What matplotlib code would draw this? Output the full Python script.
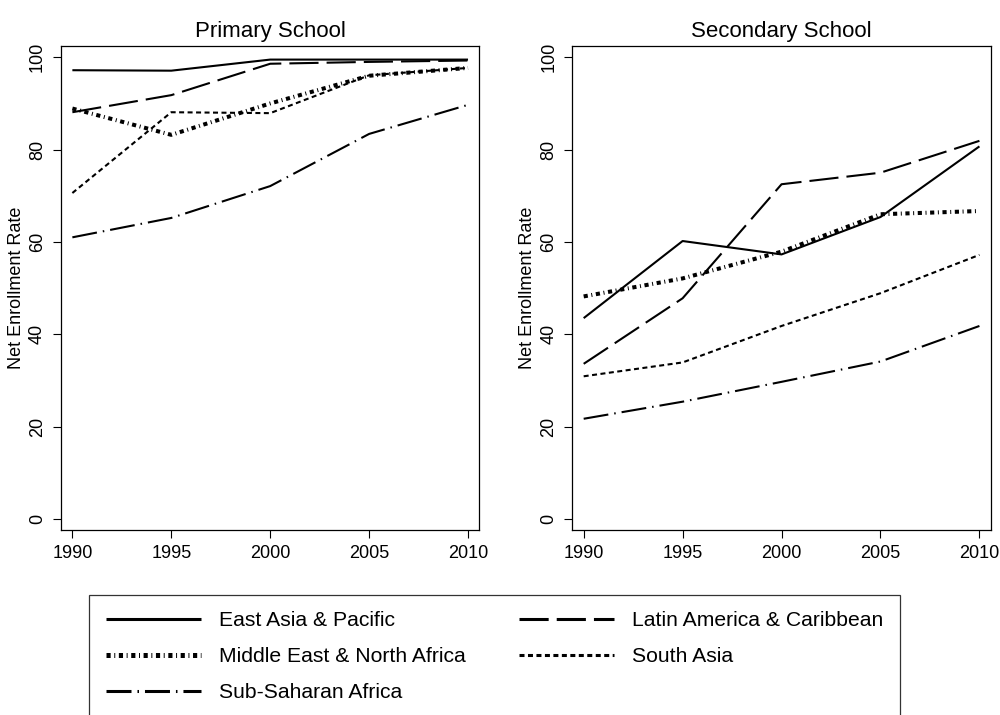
import matplotlib
matplotlib.use("Agg")
import matplotlib.pyplot as plt
from matplotlib.lines import Line2D

plt.rcParams["font.family"] = ["Liberation Sans", "DejaVu Sans"]
plt.rcParams["lines.scale_dashes"] = False

years = [1990, 1995, 2000, 2005, 2010]
regions = [
    "East Asia & Pacific",
    "Latin America & Caribbean",
    "Middle East & North Africa",
    "South Asia",
    "Sub-Saharan Africa",
]

primary_eap = [97.2, 97.1, 99.5, 99.5, 99.5]
primary_lac = [88.1, 91.8, 98.6, 99.0, 99.3]
primary_mena = [88.9, 83.2, 90.0, 96.0, 97.7]
primary_sa = [70.6, 88.1, 87.9, 96.1, 97.7]
primary_ssa = [61.0, 65.2, 72.1, 83.4, 89.7]

secondary_eap = [43.5, 60.2, 57.3, 65.4, 80.7]
secondary_lac = [33.6, 47.8, 72.5, 75.0, 81.9]
secondary_mena = [48.2, 52.1, 57.9, 66.0, 66.7]
secondary_sa = [30.9, 33.9, 41.8, 48.9, 57.2]
secondary_ssa = [21.7, 25.4, 29.7, 34.1, 41.8]

primary = [primary_eap, primary_lac, primary_mena, primary_sa, primary_ssa]
secondary = [secondary_eap, secondary_lac, secondary_mena, secondary_sa, secondary_ssa]

# line looks: (linewidth, dashes) -- dashes in points, None = solid
styles = [
    (1.5, None),
    (1.5, (21.0, 5.8)),
    (2.9, (3.0, 2.6, 0.7, 2.6)),
    (1.5, (3.6, 2.5)),
    (1.5, (18.0, 4.3, 1.1, 4.3)),
]


def draw_panel(ax, series, title):
    for vals, (lw, dashes) in zip(series, styles):
        line, = ax.plot(years, vals, color="black", lw=lw,
                        solid_capstyle="butt", dash_capstyle="butt")
        if dashes is not None:
            line.set_dashes(dashes)
    ax.set_xlim(1989.41, 2010.57)
    ax.set_ylim(-2.4, 102.45)
    ax.set_xticks(years)
    ax.set_yticks([0, 20, 40, 60, 80, 100])
    ax.tick_params(axis="both", direction="out", length=5.5, width=0.8,
                   labelsize=13, pad=5, color="black")
    ax.tick_params(axis="y", labelrotation=90)
    for lab in ax.get_yticklabels():
        lab.set_va("center")
    for sp in ax.spines.values():
        sp.set_linewidth(0.9)
    ax.set_ylabel("Net Enrollment Rate", fontsize=13, labelpad=3)
    ax.set_title(title, fontsize=16, pad=6.5)


fig = plt.figure(figsize=(10, 7.15), dpi=100)
ax1 = fig.add_axes([0.0607, 0.2587, 0.4186, 0.677])
ax2 = fig.add_axes([0.572, 0.2587, 0.4187, 0.677])
draw_panel(ax1, primary, "Primary School")
draw_panel(ax2, secondary, "Secondary School")

handles = []
for lw, dashes in styles:
    h = Line2D([], [], color="black", lw=lw + 0.7, solid_capstyle="butt",
               dash_capstyle="butt")
    if dashes is not None:
        h.set_dashes(dashes)
    handles.append(h)

# legend fills column by column; reorder so rows read like the original
order = [0, 2, 4, 1, 3]
leg = fig.legend([handles[i] for i in order], [regions[i] for i in order],
                 ncol=2, loc="upper left",
                 bbox_to_anchor=(0.0893, 1 - 595 / 715), borderaxespad=0,
                 fontsize=15.2, frameon=True, fancybox=False, edgecolor="black",
                 handlelength=4.5, handletextpad=0.85, columnspacing=2.53,
                 labelspacing=0.8, borderpad=0.78)
leg.get_frame().set_linewidth(0.9)

fig.savefig("out.png", dpi=100, facecolor="white")
